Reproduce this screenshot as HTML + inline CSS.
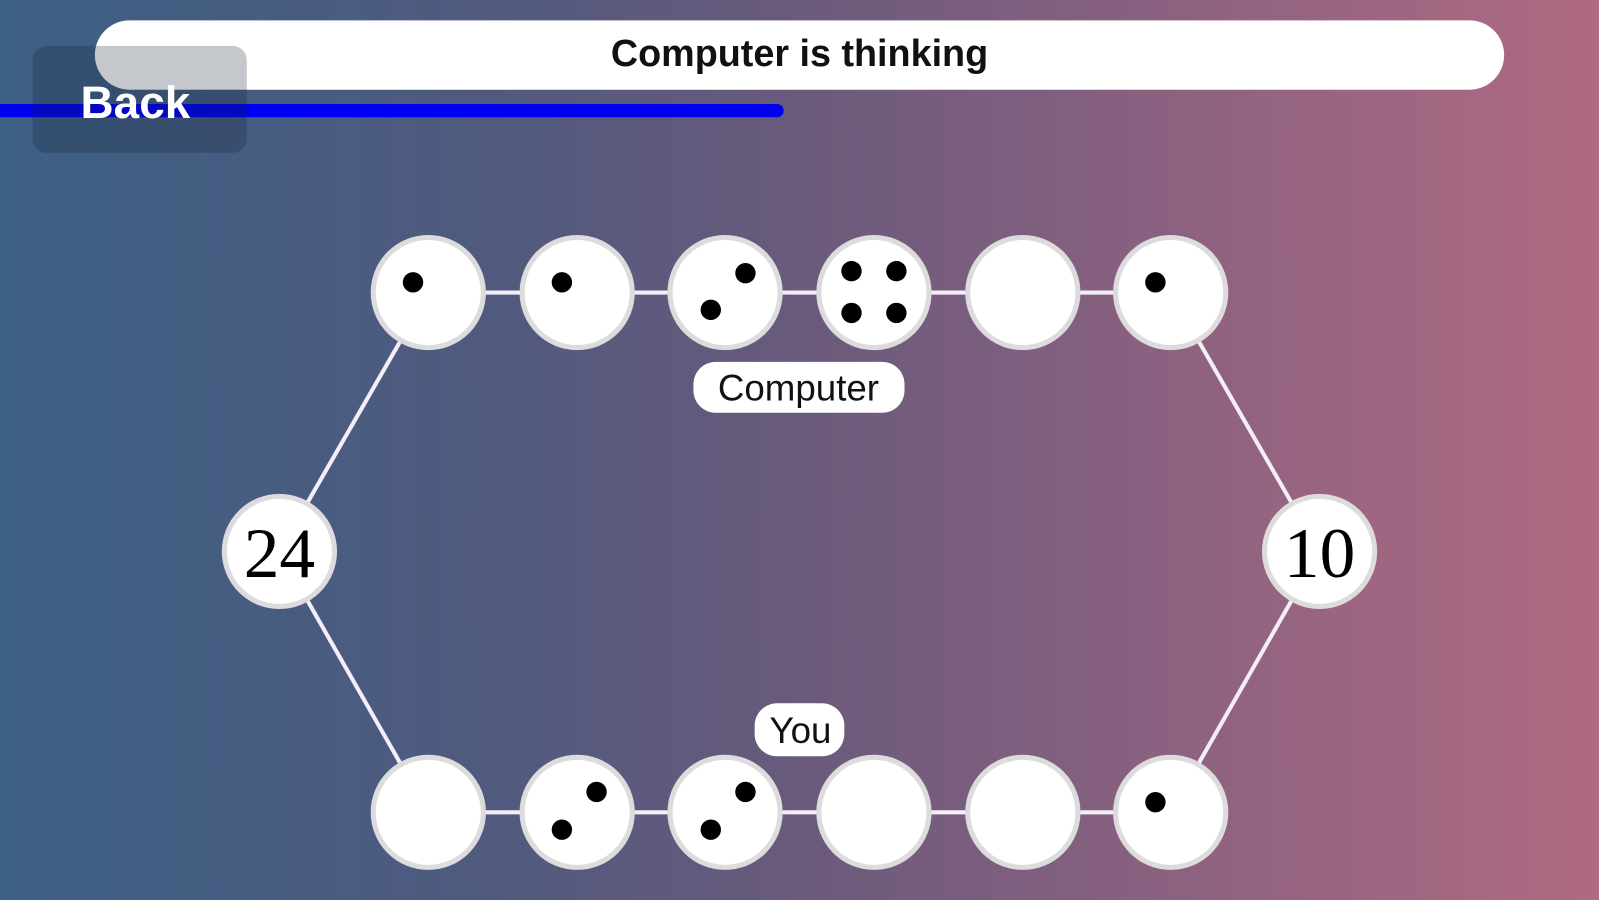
<!DOCTYPE html>
<html><head><meta charset="utf-8"><style>
html,body{margin:0;padding:0;width:1599px;height:900px;overflow:hidden}
body{background:linear-gradient(90deg,#3d6085 0%,#4f5a7e 30%,#6a5a7c 50%,#8e6280 75%,#b06a82 100%)}
svg{display:block}
</style></head><body>
<svg width="1599" height="900" viewBox="0 0 1568 883" preserveAspectRatio="none" xmlns="http://www.w3.org/2000/svg" font-family="Liberation Sans, sans-serif">
<rect x="93" y="20" width="1382" height="68" rx="34" fill="#fff"/>
<text x="784" y="65" text-anchor="middle" font-size="37" font-weight="bold" fill="#111">Computer is thinking</text>
<path d="M0 102 H762 a6 6 0 0 1 0 13 H0 Z" fill="#0000f0"/>
<rect x="32" y="45" width="210" height="105" rx="14" fill="rgba(20,30,50,0.25)"/>
<text x="79" y="116" font-size="45" font-weight="bold" fill="#fff">Back</text>
<g stroke="#f4eef8" stroke-width="4" fill="none">
<line x1="420" y1="287" x2="1148" y2="287"/>
<line x1="420" y1="797" x2="1148" y2="797"/>
<line x1="420" y1="287" x2="274" y2="541"/>
<line x1="274" y1="541" x2="420" y2="797"/>
<line x1="1148" y1="287" x2="1294" y2="541"/>
<line x1="1294" y1="541" x2="1148" y2="797"/>
</g>
<g fill="#fff" stroke="#dcdcdc" stroke-width="5">
<circle cx="420" cy="287" r="54"/><circle cx="566" cy="287" r="54"/><circle cx="711" cy="287" r="54"/>
<circle cx="857" cy="287" r="54"/><circle cx="1003" cy="287" r="54"/><circle cx="1148" cy="287" r="54"/>
<circle cx="420" cy="797" r="54"/><circle cx="566" cy="797" r="54"/><circle cx="711" cy="797" r="54"/>
<circle cx="857" cy="797" r="54"/><circle cx="1003" cy="797" r="54"/><circle cx="1148" cy="797" r="54"/>
<circle cx="274" cy="541" r="54"/><circle cx="1294" cy="541" r="54"/>
</g>
<g fill="#000">
<circle cx="405" cy="277" r="10"/>
<circle cx="551" cy="277" r="10"/>
<circle cx="731" cy="268" r="10"/><circle cx="697" cy="304" r="10"/>
<circle cx="835" cy="266" r="10"/><circle cx="879" cy="266" r="10"/><circle cx="835" cy="307" r="10"/><circle cx="879" cy="307" r="10"/>
<circle cx="1133" cy="277" r="10"/>
<circle cx="585" cy="777" r="10"/><circle cx="551" cy="814" r="10"/>
<circle cx="731" cy="777" r="10"/><circle cx="697" cy="814" r="10"/>
<circle cx="1133" cy="787" r="10"/>
</g>
<text x="274" y="566" text-anchor="middle" font-family="Liberation Serif, serif" font-size="70" fill="#000">24</text>
<text x="1294" y="566" text-anchor="middle" font-family="Liberation Serif, serif" font-size="70" fill="#000">10</text>
<rect x="680" y="355" width="207" height="50" rx="22" fill="#fff"/>
<text x="783" y="393" text-anchor="middle" font-size="36" fill="#111">Computer</text>
<rect x="740" y="690" width="88" height="52" rx="22" fill="#fff"/>
<text x="785" y="729" text-anchor="middle" font-size="36" fill="#111">You</text>
</svg>
</body></html>
